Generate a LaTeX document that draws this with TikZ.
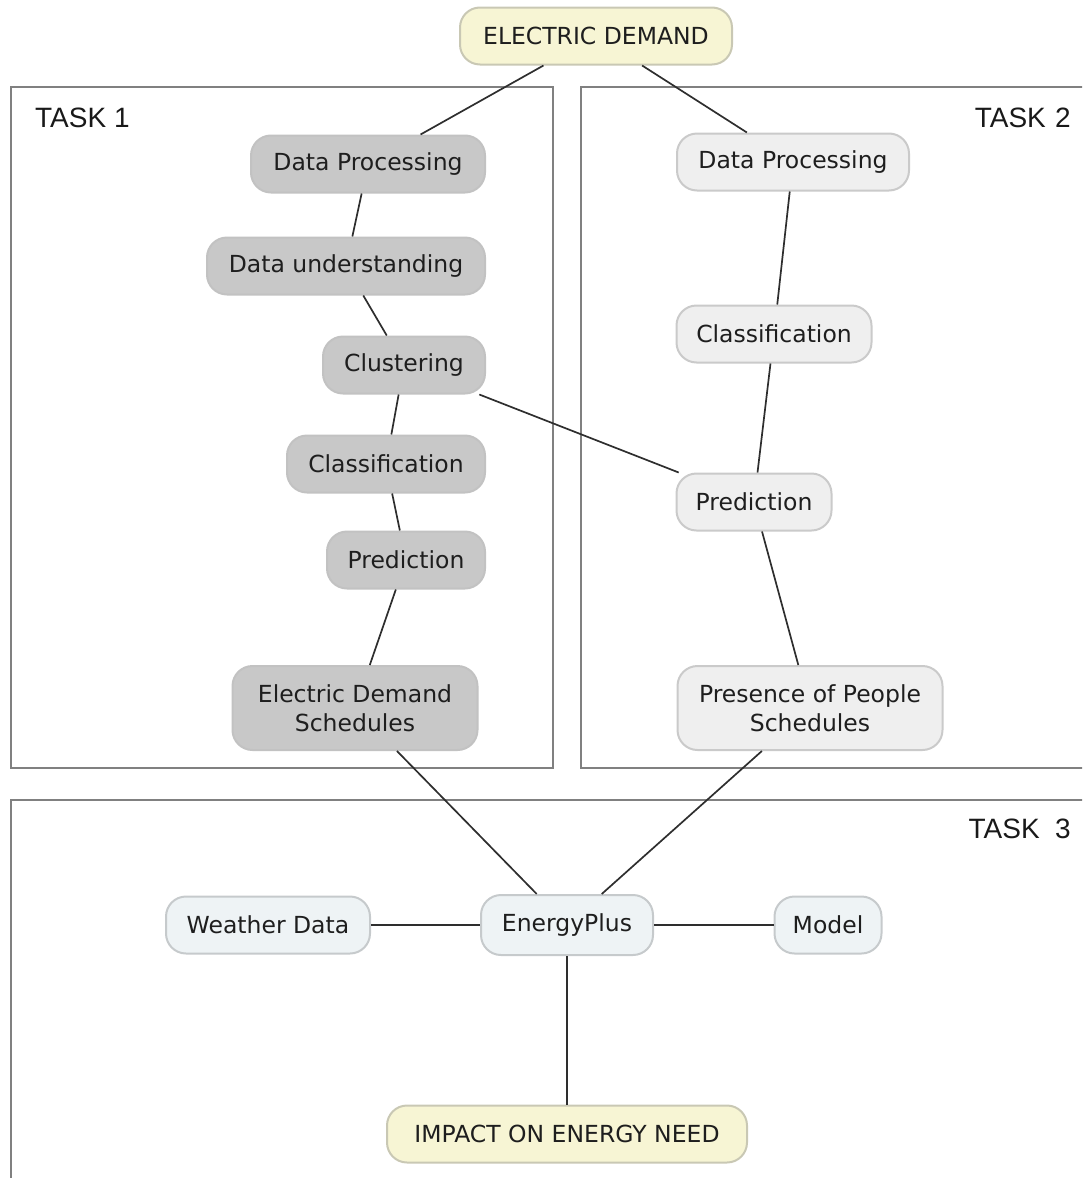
\documentclass[tikz,border=0pt]{standalone}
\usepackage{fontspec}
\setmainfont{DejaVu Sans}
\newfontfamily\taskfont{Liberation Sans}
\definecolor{yellowfill}{HTML}{F7F5D4}
\definecolor{yellowline}{HTML}{C9C8B4}
\definecolor{darkfill}{HTML}{C8C8C8}
\definecolor{darkline}{HTML}{C2C2C2}
\definecolor{lightfill}{HTML}{EFEFEF}
\definecolor{lightline}{HTML}{CACACA}
\definecolor{bluefill}{HTML}{EEF3F5}
\definecolor{blueline}{HTML}{C6CACC}
\definecolor{frame}{HTML}{808080}
\definecolor{link}{HTML}{2E2E2E}
\definecolor{txt}{HTML}{1E1E1E}
\begin{document}
\begin{tikzpicture}[x=1pt,y=-1pt,
  concept/.style={rounded corners=20pt, minimum height=57pt, inner sep=0pt,
    font=\fontsize{23.5}{29}\selectfont, align=center, text=txt, line width=2pt},
  tall/.style={minimum height=84pt},
  goal/.style={concept, fill=yellowfill, draw=yellowline},
  taskone/.style={concept, fill=darkfill, draw=darkline},
  tasktwo/.style={concept, fill=lightfill, draw=lightline},
  taskthree/.style={concept, fill=bluefill, draw=blueline},
  frameline/.style={draw=frame, line width=1.5pt},
  tasklabel/.style={font=\taskfont\fontsize{28}{32}\selectfont, text=black!90, inner sep=0pt},
  link/.style={draw=link, line width=1.7pt}]

\path[use as bounding box] (0,0) rectangle (1082,1178);
\clip (0,0) rectangle (1082,1178);

% task frames
\draw[frameline] (11,87) rectangle (553,768);
\draw[frameline] (581,87) rectangle (1100,768);
\draw[frameline] (11,1200) -- (11,800) -- (1100,800);

\node[tasklabel, anchor=west] (t1) at (35,118) {TASK 1};
\node[tasklabel, anchor=east] (t2) at (1071,118) {TASK\,\,2};
\node[tasklabel, anchor=east] (t3) at (1071,829) {TASK\ \ 3};

% concepts
\node[goal, minimum width=272pt] (ed) at (596,36) {ELECTRIC DEMAND};

\node[taskone, minimum width=234pt] (dp1) at (368,164) {Data Processing};
\node[taskone, minimum width=278pt] (du) at (346,266) {Data understanding};
\node[taskone, minimum width=162pt] (cl) at (404,365) {Clustering};
\node[taskone, minimum width=198pt] (cf1) at (386,464) {Classification};
\node[taskone, minimum width=158pt] (pr1) at (406,560) {Prediction};
\node[taskone, tall, minimum width=245pt] (eds) at (355,708) {Electric Demand\\Schedules};

\node[tasktwo, minimum width=232pt] (dp2) at (793,162) {Data Processing};
\node[tasktwo, minimum width=195pt] (cf2) at (774,334) {Classification};
\node[tasktwo, minimum width=155pt] (pr2) at (754,502) {Prediction};
\node[tasktwo, tall, minimum width=265pt] (pps) at (810,708) {Presence of People\\Schedules};

\node[taskthree, minimum width=204pt] (wd) at (268,925) {Weather Data};
\node[taskthree, minimum width=172pt, minimum height=60pt] (ep) at (567,925) {EnergyPlus};
\node[taskthree, minimum width=107pt] (md) at (828,925) {Model};
\node[goal, minimum width=360pt] (imp) at (567,1134) {IMPACT ON ENERGY NEED};

% connections
\draw[link] (ed) -- (dp1);
\draw[link] (ed) -- (dp2);
\draw[link] (dp1) -- (du);
\draw[link] (du) -- (cl);
\draw[link] (cl) -- (cf1);
\draw[link] (cf1) -- (pr1);
\draw[link] (pr1) -- (eds);
\draw[link] (cl) -- (pr2);
\draw[link] (dp2) -- (cf2);
\draw[link] (cf2) -- (pr2);
\draw[link] (pr2) -- (pps);
\draw[link] (eds) -- (ep);
\draw[link] (pps) -- (ep);
\draw[link] (wd) -- (ep);
\draw[link] (ep) -- (md);
\draw[link] (ep) -- (imp);
\end{tikzpicture}
\end{document}
